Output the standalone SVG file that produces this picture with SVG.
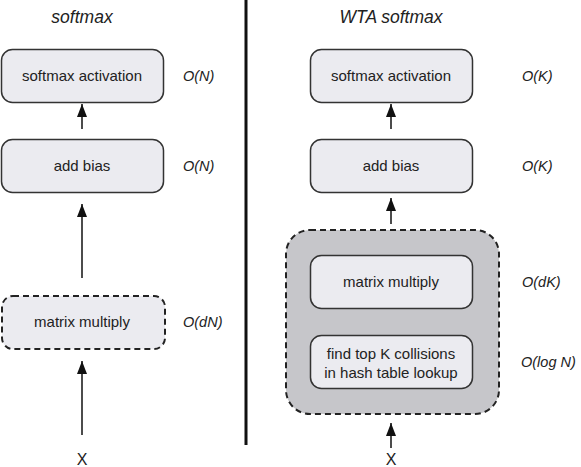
<svg xmlns="http://www.w3.org/2000/svg" width="581" height="467" viewBox="0 0 581 467">
<defs>
<style>
.box{fill:#ebebf0;stroke:#333;stroke-width:1.5}
.dash{stroke:#222;stroke-width:2;stroke-dasharray:6 4}
.lbl{font-family:"Liberation Sans",Arial,sans-serif;font-size:15px;fill:#222;text-anchor:middle}
.cx{font-family:"Liberation Sans",Arial,sans-serif;font-size:14.5px;font-style:italic;fill:#222}
.title{font-family:"Liberation Sans",Arial,sans-serif;font-size:17.5px;font-style:italic;fill:#222;text-anchor:middle}
.x{font-family:"Liberation Sans",Arial,sans-serif;font-size:16px;fill:#222;text-anchor:middle}
.conn{stroke:#111;stroke-width:1.5;fill:none;marker-end:url(#ah)}
</style>
<marker id="ah" viewBox="0 0 13 10" refX="13" refY="5" markerWidth="13" markerHeight="10" markerUnits="userSpaceOnUse" orient="auto">
<path d="M0,0 L13,5 L0,10 Z" fill="#111"/>
</marker>
</defs>
<text class="title" x="82" y="23">softmax</text>
<text class="title" x="391" y="23">WTA softmax</text>
<line x1="246" y1="0" x2="246" y2="445" stroke="#111" stroke-width="3"/>

<g id="l-softmax">
<rect class="box" x="1.5" y="49.5" width="162" height="53" rx="11"/>
<text class="lbl" x="82" y="81">softmax activation</text>
<text class="cx" x="183" y="81">O(N)</text>
</g>
<g id="l-bias">
<rect class="box" x="1.5" y="139.5" width="162" height="53" rx="11"/>
<text class="lbl" x="82" y="171">add bias</text>
<text class="cx" x="183" y="171">O(N)</text>
</g>
<g id="l-matmul">
<rect class="box dash" x="2" y="296" width="163" height="53" rx="11"/>
<text class="lbl" x="82" y="327">matrix multiply</text>
<text class="cx" x="183" y="327">O(dN)</text>
</g>
<g id="l-x"><text class="x" x="82" y="465">X</text></g>

<g id="r-softmax">
<rect class="box" x="310.5" y="49.5" width="162" height="53" rx="11"/>
<text class="lbl" x="391" y="81">softmax activation</text>
<text class="cx" x="522" y="81">O(K)</text>
</g>
<g id="r-bias">
<rect class="box" x="310.5" y="139.5" width="162" height="53" rx="11"/>
<text class="lbl" x="391" y="171">add bias</text>
<text class="cx" x="522" y="171">O(K)</text>
</g>
<g id="r-group">
<rect class="dash" x="286" y="230" width="213" height="184" rx="24" fill="#c6c6ca"/>
</g>
<g id="r-matmul">
<rect class="box" x="310.5" y="255.5" width="162" height="53" rx="11"/>
<text class="lbl" x="391" y="287">matrix multiply</text>
<text class="cx" x="522" y="287">O(dK)</text>
</g>
<g id="r-hash">
<rect class="box" x="310.5" y="335.5" width="162" height="53" rx="11"/>
<text class="lbl" x="391" y="359">find top K collisions</text>
<text class="lbl" x="391" y="378">in hash table lookup</text>
<text class="cx" x="521" y="367">O(log N)</text>
</g>
<g id="r-x"><text class="x" x="391" y="465">X</text></g>

<g id="connectors">
<line class="conn" x1="82" y1="129" x2="82" y2="104"/>
<line class="conn" x1="82" y1="278" x2="82" y2="204"/>
<line class="conn" x1="82" y1="435" x2="82" y2="361"/>
<line class="conn" x1="391" y1="129" x2="391" y2="104"/>
<line class="conn" x1="391" y1="224" x2="391" y2="198"/>
<line class="conn" x1="391" y1="448" x2="391" y2="423"/>
</g>
</svg>
